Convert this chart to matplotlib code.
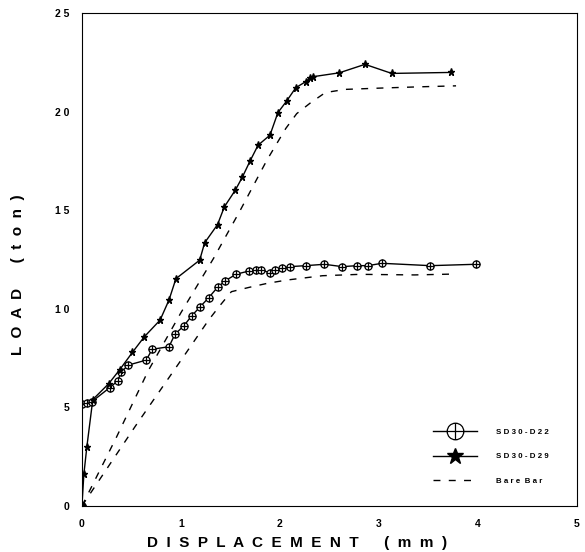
'''
load - displacement curves, SD30 specimens vs bare bar
'''
import numpy as np
import matplotlib
matplotlib.use('Agg')
import matplotlib.pyplot as plt
from matplotlib.path import Path

plt.rcParams['font.family'] = ['Liberation Sans', 'DejaVu Sans']

# SD30-D22 (circle with cross)
d22_x = [0.0, 0.0, 0.05, 0.10, 0.28, 0.36, 0.40, 0.47, 0.65, 0.71, 0.88, 0.94, 1.03,
         1.11, 1.19, 1.28, 1.37, 1.45, 1.56, 1.69, 1.76, 1.81, 1.90, 1.95, 2.02, 2.10,
         2.26, 2.45, 2.63, 2.78, 2.89, 3.03, 3.52, 3.98]
d22_y = [0.0, 5.17, 5.20, 5.29, 6.00, 6.34, 6.81, 7.15, 7.40, 7.95, 8.08, 8.71, 9.14,
         9.65, 10.08, 10.56, 11.09, 11.43, 11.76, 11.92, 11.97, 11.97, 11.83, 11.97, 12.05, 12.14,
         12.19, 12.26, 12.14, 12.19, 12.19, 12.31, 12.19, 12.26]

# SD30-D29 (star)
d29_x = [0.0, 0.02, 0.05, 0.11, 0.27, 0.38, 0.51, 0.63, 0.79, 0.88, 0.95, 1.19, 1.24,
         1.37, 1.44, 1.55, 1.62, 1.70, 1.78, 1.90, 1.98, 2.07, 2.16, 2.26, 2.30, 2.33,
         2.60, 2.86, 3.13, 3.73]
d29_y = [0.0, 1.62, 3.00, 5.40, 6.20, 6.90, 7.79, 8.58, 9.43, 10.45, 11.53, 12.47, 13.35,
         14.27, 15.18, 16.02, 16.67, 17.51, 18.30, 18.81, 19.95, 20.55, 21.21, 21.52, 21.69, 21.77,
         21.97, 22.40, 21.94, 21.99]

# bare bar, two curves
bare_hi_x = [0.0, 0.35, 0.67, 1.00, 1.33, 1.60, 1.87, 2.06, 2.17, 2.31, 2.46, 2.66, 3.04, 3.41, 3.78]
bare_hi_y = [0.0, 3.50, 6.86, 9.80, 12.56, 15.00, 17.55, 19.15, 19.90, 20.45, 20.97, 21.13, 21.20, 21.26, 21.31]
bare_lo_x = [0.0, 0.54, 1.06, 1.28, 1.39, 1.51, 1.69, 1.87, 2.07, 2.43, 2.81, 3.36, 3.72]
bare_lo_y = [0.0, 4.05, 7.82, 9.43, 10.14, 10.87, 11.09, 11.29, 11.46, 11.68, 11.75, 11.72, 11.76]

xticks = [0, 1, 2, 3, 4, 5]
yticks = [0, 5, 10, 15, 20, 25]
ytick_labels = ['0', '5', '1 0', '1 5', '2 0', '2 5']

# circle with a cross through it
circ = Path.unit_circle()
cross = Path([[-1, 0], [1, 0], [0, -1], [0, 1]],
             [Path.MOVETO, Path.LINETO, Path.MOVETO, Path.LINETO])
circ_cross = Path.make_compound_path(circ, cross)

fig = plt.figure(figsize=(5.85, 5.52), dpi=100)
ax = fig.add_axes([0.140, 0.0833, 0.846, 0.893])

ax.plot(d22_x, d22_y, c='black', lw=1.0, marker=circ_cross, ms=5.2,
        mfc='white', mec='black', mew=0.9, label='S D 3 0 - D 2 2')
ax.plot(d29_x, d29_y, c='black', lw=1.0, marker='*', ms=5.2,
        mfc='black', mec='black', label='S D 3 0 - D 2 9')
ax.plot(bare_hi_x, bare_hi_y, c='black', lw=1.0, ls=(0, (5, 6)), label='B a r e  B a r')
ax.plot(bare_lo_x, bare_lo_y, c='black', lw=1.0, ls=(0, (5, 6)))
ax.plot([0], [0], 'o', c='black', ms=5)

ax.set_xlim(0, 5)
ax.set_ylim(0, 25)
ax.set_xticks(xticks)
ax.set_yticks(yticks)
ax.set_yticklabels(ytick_labels)
ax.tick_params(length=0, labelsize=7.5, pad=9)
for lab in ax.get_xticklabels() + ax.get_yticklabels():
    lab.set_fontweight('bold')

ax.set_xlabel('D  I  S  P  L  A  C  E  M  E  N  T      (  m  m  )', fontsize=11, fontweight='bold')
ax.set_ylabel('L  O  A  D      (  t  o  n  )', fontsize=11, fontweight='bold')
ax.xaxis.set_label_coords((297 - 82) / 495, -0.060)
ax.yaxis.set_label_coords(-0.115, 0.47)

leg = ax.legend(loc='upper left', bbox_to_anchor=(0.709, 0.157), frameon=False,
                borderpad=0, borderaxespad=0,
                fontsize=5.7, markerscale=2.3, handlelength=5.6, labelspacing=2.1,
                handletextpad=2.4)
for t in leg.get_texts():
    t.set_fontweight('bold')

fig.savefig('out.png', dpi=100)
